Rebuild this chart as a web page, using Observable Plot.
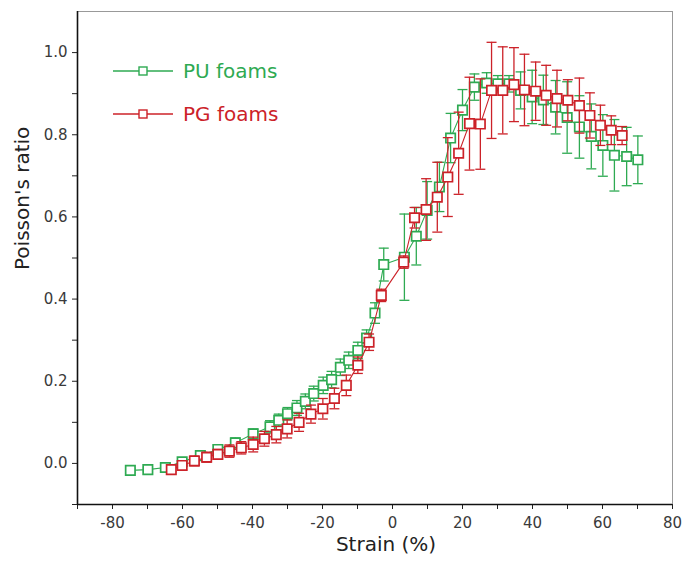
<!DOCTYPE html>
<html>
<head>
<meta charset="utf-8">
<script src="https://cdn.jsdelivr.net/npm/d3@7"></script>
<script src="https://cdn.jsdelivr.net/npm/@observablehq/plot@0.6"></script>
<style>
  body { margin: 0; background: #fff; }
  #wrap { position: relative; width: 683px; height: 561px; font-family: "DejaVu Sans", sans-serif; }
  .leg { position: absolute; left: 113px; display: flex; align-items: center; font-size: 20px; }
  .leg svg { margin-right: 10px; }
</style>
</head>
<body>
<div id="wrap"></div>
<script>
// PU foams (green)
const puX = [-74.9, -69.9, -64.9, -60.1, -54.9, -49.9, -44.9, -39.8, -35.0, -32.5, -30.0, -27.3, -24.9, -22.5, -19.8, -17.4, -14.9, -12.5, -9.9, -7.4, -5.0, -2.5, 3.4, 6.8, 9.9, 13.4, 16.6, 20.0, 23.4, 26.9, 30.1, 33.3, 36.6, 39.9, 43.1, 46.6, 49.9, 53.4, 56.8, 60.1, 63.4, 66.9, 70.1];
const puY = [-0.017, -0.015, -0.010, 0.004, 0.019, 0.034, 0.050, 0.072, 0.089, 0.105, 0.121, 0.135, 0.151, 0.170, 0.190, 0.204, 0.234, 0.251, 0.275, 0.305, 0.366, 0.484, 0.502, 0.553, 0.616, 0.673, 0.792, 0.860, 0.916, 0.926, 0.924, 0.924, 0.908, 0.892, 0.885, 0.867, 0.842, 0.819, 0.796, 0.774, 0.750, 0.747, 0.739];
const puErr = [0.004, 0.004, 0.005, 0.008, 0.010, 0.010, 0.012, 0.012, 0.015, 0.015, 0.015, 0.018, 0.018, 0.018, 0.020, 0.020, 0.020, 0.020, 0.020, 0.020, 0.025, 0.040, 0.105, 0.070, 0.070, 0.060, 0.060, 0.050, 0.032, 0.025, 0.020, 0.020, 0.045, 0.065, 0.060, 0.065, 0.087, 0.076, 0.079, 0.075, 0.087, 0.071, 0.058];

// PG foams (red)
const pgX = [-63.2, -60.1, -56.6, -53.1, -49.9, -46.6, -43.2, -39.8, -36.6, -33.2, -30.1, -26.7, -23.3, -19.9, -16.6, -13.2, -9.9, -6.7, -3.2, 3.2, 6.3, 9.6, 12.8, 15.8, 18.9, 22.0, 25.1, 28.3, 31.5, 34.7, 37.7, 40.9, 43.9, 47.0, 50.1, 53.4, 56.4, 59.4, 62.5, 65.6];
const pgY = [-0.015, -0.005, 0.006, 0.015, 0.022, 0.030, 0.038, 0.046, 0.060, 0.070, 0.084, 0.100, 0.120, 0.133, 0.158, 0.190, 0.239, 0.295, 0.409, 0.490, 0.598, 0.618, 0.648, 0.697, 0.755, 0.827, 0.826, 0.908, 0.908, 0.922, 0.909, 0.906, 0.896, 0.888, 0.884, 0.871, 0.847, 0.823, 0.811, 0.798];
const pgErr = [0.005, 0.010, 0.012, 0.012, 0.012, 0.015, 0.015, 0.018, 0.018, 0.020, 0.022, 0.022, 0.022, 0.025, 0.025, 0.025, 0.020, 0.020, 0.015, 0.015, 0.025, 0.075, 0.085, 0.096, 0.100, 0.113, 0.110, 0.117, 0.106, 0.090, 0.087, 0.071, 0.073, 0.069, 0.050, 0.067, 0.055, 0.049, 0.035, 0.022];

const xMajor = [-80, -60, -40, -20, 0, 20, 40, 60, 80];
const xMinor = [-90, -70, -50, -30, -10, 10, 30, 50, 70];
const yMajor = [0.0, 0.2, 0.4, 0.6, 0.8, 1.0];
const yMinor = [-0.1, 0.1, 0.3, 0.5, 0.7, 0.9];

const seriesNames = ["PU foams", "PG foams"];
const GREEN = "#2eaa52";
const RED = "#cc2229";

const pu = puX.map((x, i) => ({x, y: puY[i], e: puErr[i]}));
const pg = pgX.map((x, i) => ({x, y: pgY[i], e: pgErr[i]}));

const cap = {draw(ctx, size) { const r = Math.sqrt(size / Math.PI); ctx.moveTo(-r, 0); ctx.lineTo(r, 0); }};

function seriesMarks(data, color) {
  return [
    Plot.ruleX(data, {x: "x", y1: d => d.y - d.e, y2: d => d.y + d.e, stroke: color, strokeWidth: 1.3}),
    Plot.dot(data, {x: "x", y: d => d.y + d.e, symbol: cap, r: 5, stroke: color, strokeWidth: 1.3}),
    Plot.dot(data, {x: "x", y: d => d.y - d.e, symbol: cap, r: 5, stroke: color, strokeWidth: 1.3}),
    Plot.line(data, {x: "x", y: "y", stroke: color, strokeWidth: 1.1}),
    Plot.dot(data, {x: "x", y: "y", symbol: "square", r: 5.3, fill: "white", stroke: color, strokeWidth: 1.7})
  ];
}

const chart = Plot.plot({
  width: 683,
  height: 561,
  marginLeft: 77,
  marginRight: 11,
  marginTop: 11,
  marginBottom: 57,
  style: {fontFamily: "DejaVu Sans, sans-serif", fontSize: "15px", color: "#333", background: "white"},
  x: {domain: [-90, 80]},
  y: {domain: [-0.1, 1.1]},
  marks: [
    Plot.ruleY([1.1], {stroke: "#999", strokeWidth: 1}),
    Plot.ruleX([80], {stroke: "#999", strokeWidth: 1}),
    Plot.axisX({ticks: xMajor, tickSize: 5, tickPadding: 8, tickFormat: d => String(d), label: null, stroke: "#222", fontSize: 15, fill: "#3a3a3a"}),
    Plot.axisX({ticks: xMinor, tickSize: 5, tickFormat: () => "", label: null, stroke: "#222"}),
    Plot.axisY({ticks: yMajor, tickSize: 5, tickPadding: 5, tickFormat: d => d.toFixed(1), label: null, stroke: "#222", fontSize: 15, fill: "#3a3a3a"}),
    Plot.axisY({ticks: yMinor, tickSize: 5, tickFormat: () => "", label: null, stroke: "#222"}),
    Plot.ruleX([-90], {stroke: "#111", strokeWidth: 1.6}),
    Plot.ruleY([-0.1], {stroke: "#111", strokeWidth: 1.6}),
    ...seriesMarks(pu, GREEN),
    ...seriesMarks(pg, RED),
    Plot.text(["Strain (%)"], {frameAnchor: "bottom", dy: 46, dx: 11, fontSize: 20, fill: "#222"}),
    Plot.text(["Poisson's ratio"], {frameAnchor: "left", rotate: -90, dx: -55, dy: 12, fontSize: 20, fill: "#222"})
  ]
});

const wrap = document.getElementById("wrap");
wrap.appendChild(chart);

[[seriesNames[0], GREEN, 59], [seriesNames[1], RED, 102]].forEach(([name, color, top]) => {
  const row = document.createElement("div");
  row.className = "leg";
  row.style.top = top + "px";
  row.style.color = color;
  row.innerHTML = `<svg width="60" height="24"><line x1="0" x2="60" y1="12" y2="12" stroke="${color}" stroke-width="1.3"/><rect x="26" y="8" width="8" height="8" fill="white" stroke="${color}" stroke-width="1.4"/></svg><span>${name}</span>`;
  wrap.appendChild(row);
});
</script>
</body>
</html>
